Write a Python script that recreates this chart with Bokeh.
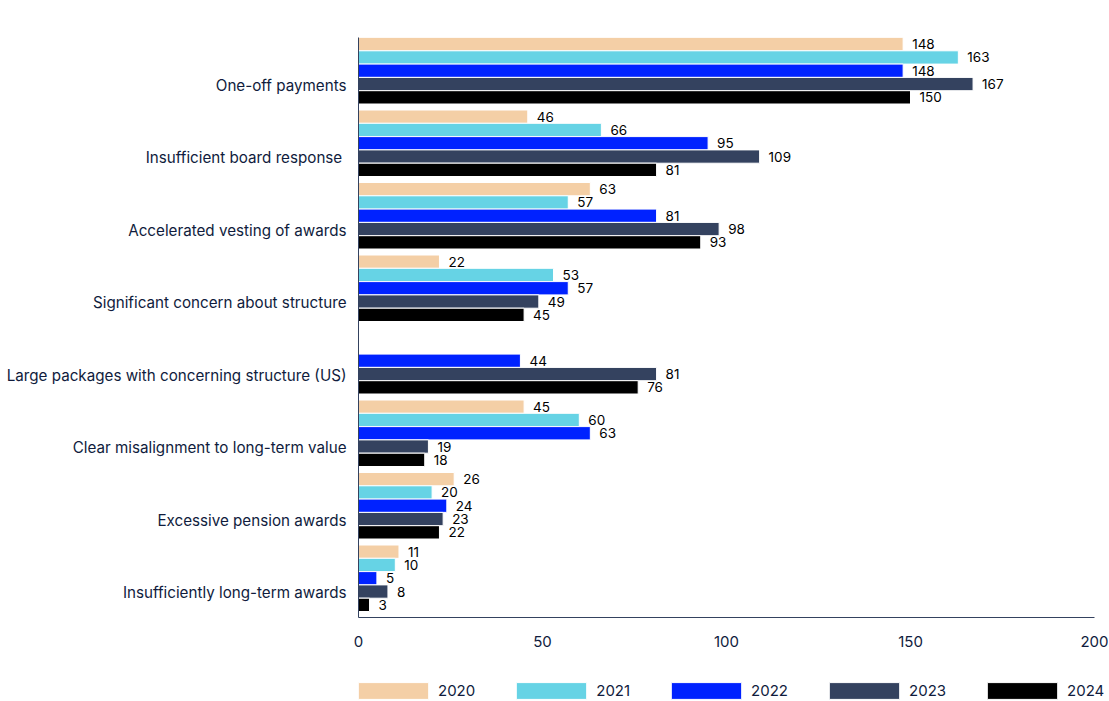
import numpy as np
from bokeh.plotting import figure
from bokeh.layouts import column
from bokeh.models import Range1d, FixedTicker, Legend, LegendItem, ColumnDataSource
from bokeh.core.properties import value
from bokeh.embed import file_html
from bokeh.resources import INLINE

categories = [
    "One-off payments",
    "Insufficient board response ",
    "Accelerated vesting of awards",
    "Significant concern about structure",
    "Large packages with concerning structure (US)",
    "Clear misalignment to long-term value",
    "Excessive pension awards",
    "Insufficiently long-term awards",
]
years = ["2020", "2021", "2022", "2023", "2024"]
v2020 = [148, 46, 63, 22, None, 45, 26, 11]
v2021 = [163, 66, 57, 53, None, 60, 20, 10]
v2022 = [148, 95, 81, 57, 44, 63, 24, 5]
v2023 = [167, 109, 98, 49, 81, 19, 23, 8]
v2024 = [150, 81, 93, 45, 76, 18, 22, 3]
series = [v2020, v2021, v2022, v2023, v2024]
colors = ["#f4cfa6", "#66d3e5", "#0022ff", "#34425f", "#000000"]
xticks = [0, 50, 100, 150, 200]

NAVY = "#101c3d"
FONT = "Inter"

# frame spans 358..1108 px; the 0..200 scale ends at 1094 px
x_end = 200 * 750 / 736
p = figure(width=1108, height=665,
           x_range=Range1d(0, x_end), y_range=Range1d(800, 0),
           output_backend="svg", toolbar_location=None,
           min_border_left=358, min_border_top=37, min_border_right=0,
           min_border_bottom=48)
p.outline_line_color = None
p.xgrid.visible = False
p.ygrid.visible = False
p.background_fill_color = "white"

h = 100 * 13.3 / 72.5
for j, (yr, vals, col) in enumerate(zip(years, series, colors)):
    ys, xs, labs = [], [], []
    for k, v in enumerate(vals):
        if v is None:
            continue
        ys.append(100 * k + (j + 0.5) * h)
        xs.append(v)
        labs.append(str(v))
    src = ColumnDataSource(dict(y=ys, right=xs, lab=labs))
    p.hbar(y="y", right="right", left=0, height=h, source=src,
           fill_color=col, line_color="white", line_width=1)
    p.text(x="right", y="y", text="lab", source=src, x_offset=9,
           text_align="left", text_baseline="middle",
           text_font=value(FONT), text_font_size="13.5px", text_color="#000000")

# y axis
p.yaxis.ticker = FixedTicker(ticks=[100 * k + 66 for k in range(len(categories))])
p.yaxis.major_label_overrides = {100 * k + 66: c for k, c in enumerate(categories)}
p.yaxis.major_tick_line_color = None
p.yaxis.minor_tick_line_color = None
p.yaxis.axis_line_color = "#34425f"
p.yaxis.major_label_text_font = FONT
p.yaxis.major_label_text_font_size = "15.2px"
p.yaxis.major_label_text_color = NAVY
p.yaxis.major_label_standoff = 6

# x axis
p.xaxis.ticker = FixedTicker(ticks=xticks)
p.xaxis.bounds = (0, 200)
p.xaxis.major_tick_line_color = None
p.xaxis.minor_tick_line_color = None
p.xaxis.axis_line_color = "#34425f"
p.xaxis.major_label_text_font = FONT
p.xaxis.major_label_text_font_size = "15px"
p.xaxis.major_label_text_color = NAVY
p.xaxis.major_label_standoff = 12

# legend strip below the chart
lf = figure(width=1108, height=35, x_range=Range1d(0, 1), y_range=Range1d(0, 1),
            output_backend="svg", toolbar_location=None,
            x_axis_type=None, y_axis_type=None,
            min_border_left=358, min_border_right=0, min_border_top=0, min_border_bottom=0)
lf.outline_line_color = None
lf.xgrid.visible = False
lf.ygrid.visible = False
items = []
for yr, col in zip(years, colors):
    r = lf.hbar(y=[5], right=[5], left=[4], height=0.5,
                fill_color=col, line_color="white", line_width=1)
    items.append(LegendItem(label=yr, renderers=[r]))
legend = Legend(items=items, orientation="horizontal", location=(-9, -1),
                glyph_width=88, glyph_height=21, label_height=17,
                label_standoff=1, spacing=32, padding=0, margin=0,
                border_line_color=None, background_fill_alpha=0,
                label_text_font=FONT, label_text_font_size="15px",
                label_text_color=NAVY)
lf.add_layout(legend)

layout = column(p, lf, spacing=0)
open("out.html", "w").write(file_html(layout, INLINE))
